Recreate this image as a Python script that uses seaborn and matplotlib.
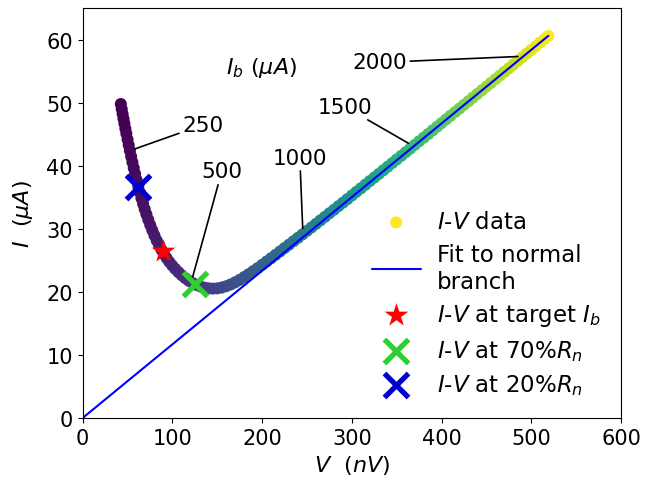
import numpy as np
import pandas as pd
import matplotlib
matplotlib.use("Agg")
import matplotlib.pyplot as plt
import seaborn as sns

# I-V sweep of the TES, listed by ascending bias current
ib_ua = [218, 221, 224, 227, 231, 234, 238, 242, 246, 250, 255, 260, 265, 270,
         275, 282, 288, 294, 300, 306, 313, 320, 328, 337, 345, 354, 364, 374,
         384, 395, 407, 419, 432, 445, 460, 475, 490, 507, 523, 541, 558, 576,
         594, 614, 634, 654, 674, 694, 714, 734, 754, 775, 795, 815, 835, 856,
         876, 896, 917, 937, 957, 978, 998, 1018, 1038, 1059, 1079, 1099, 1120,
         1140, 1160, 1181, 1201, 1221, 1242, 1262, 1282, 1303, 1323, 1344, 1364,
         1384, 1405, 1425, 1445, 1466, 1486, 1506, 1527, 1547, 1567, 1588, 1608,
         1628, 1649, 1669, 1689, 1710, 1730, 1750, 1771, 1791, 1812, 1832, 1852,
         1873, 1893, 1913, 1934, 1954, 1974, 1995, 2015, 2035, 2056, 2076, 2096,
         2113]
v_nv = [42.5, 43.5, 44.5, 45.5, 46.5, 47.6, 48.7, 50.0, 51.3, 52.6, 54.0, 55.4,
        56.9, 58.4, 60.1, 62.0, 63.7, 65.5, 67.3, 69.1, 71.0, 73.1, 75.3, 77.6,
        80.0, 82.5, 85.1, 87.8, 90.6, 93.5, 96.6, 99.8, 103.2, 106.8, 110.5,
        114.4, 118.5, 122.7, 127.0, 131.5, 136.0, 140.5, 145, 150, 155, 160, 165,
        170, 175, 180, 185, 190, 195, 200, 205, 210, 215, 220, 225, 230, 235, 240,
        245, 250, 255, 260, 265, 270, 275, 280, 285, 290, 295, 300, 305, 310, 315,
        320, 325, 330, 335, 340, 345, 350, 355, 360, 365, 370, 375, 380, 385, 390,
        395, 400, 405, 410, 415, 420, 425, 430, 435, 440, 445, 450, 455, 460, 465,
        470, 475, 480, 485, 490, 495, 500, 505, 510, 515, 519]
i_ua = [49.80, 49.01, 48.23, 47.46, 46.71, 45.89, 45.10, 44.18, 43.28, 42.40,
        41.48, 40.58, 39.65, 38.74, 37.75, 36.68, 35.77, 34.84, 33.97, 33.14,
        32.32, 31.46, 30.61, 29.77, 28.95, 28.15, 27.39, 26.68, 26.00, 25.37,
        24.75, 24.18, 23.64, 23.12, 22.63, 22.17, 21.75, 21.39, 21.09, 20.84,
        20.66, 20.56, 20.52, 20.56, 20.69, 20.90, 21.18, 21.52, 21.91, 22.35,
        22.80, 23.28, 23.77, 24.29, 24.82, 25.35, 25.88, 26.42, 26.96, 27.49,
        28.04, 28.58, 29.13, 29.68, 30.23, 30.79, 31.35, 31.91, 32.47, 33.02,
        33.59, 34.15, 34.72, 35.29, 35.86, 36.43, 37.00, 37.57, 38.14, 38.71,
        39.29, 39.86, 40.44, 41.01, 41.58, 42.16, 42.73, 43.31, 43.89, 44.46,
        45.04, 45.62, 46.20, 46.78, 47.36, 47.94, 48.52, 49.10, 49.68, 50.25,
        50.84, 51.42, 52.00, 52.58, 53.16, 53.74, 54.32, 54.90, 55.48, 56.06,
        56.65, 57.23, 57.82, 58.40, 58.98, 59.57, 60.15, 60.62]

# straight-line fit to the normal branch
fit_v = [0.0, 519.0]
fit_i = [0.0, 60.62]

# operating points
target_v, target_i = [89.5], [26.5]
rn70_v, rn70_i = [125.5], [21.3]
rn20_v, rn20_i = [62.0], [36.6]

# bias currents called out along the curve
bias_levels = [250, 500, 1000, 1500, 2000]
label_xy = [(134, 46.5), (155, 39.1), (242, 41.3), (292, 49.4), (331, 56.4)]

sns.set_style("ticks", {"axes.edgecolor": "black", "xtick.color": "black",
                        "ytick.color": "black", "text.color": "black",
                        "axes.labelcolor": "black"})
plt.rcParams["font.family"] = ["DejaVu Sans"]
plt.rcParams["mathtext.fontset"] = "dejavusans"

fig = plt.figure(figsize=(6.46, 4.81), dpi=100)
ax = fig.add_axes([0.128, 0.129, 0.8333, 0.8518])

# sweep recorded from high bias down
sweep = pd.DataFrame({"V": v_nv, "I": i_ua, "Ib": ib_ua}).iloc[::-1]
sns.scatterplot(data=sweep, x="V", y="I", hue="Ib", palette="viridis", s=75,
                linewidth=0, legend=False, ax=ax, label=r"$I$-$V$ data")
sns.lineplot(x=fit_v, y=fit_i, color="blue", linewidth=1.5, ax=ax,
             label="Fit to normal\nbranch")
sns.scatterplot(x=target_v, y=target_i, marker="*", s=320, color="red",
                linewidth=0, ax=ax, label=r"$I$-$V$ at target $I_b$", zorder=4)
sns.scatterplot(x=rn70_v, y=rn70_i, marker="x", s=300, color="limegreen",
                linewidth=3.8, ax=ax, label=r"$I$-$V$ at 70%$R_n$", zorder=4)
sns.scatterplot(x=rn20_v, y=rn20_i, marker="x", s=300, color="mediumblue",
                linewidth=3.8, ax=ax, label=r"$I$-$V$ at 20%$R_n$", zorder=4)

ib_arr = np.asarray(ib_ua, dtype=float)
for level, (tx, ty) in zip(bias_levels, label_xy):
    px = np.interp(level, ib_arr, v_nv)
    py = np.interp(level, ib_arr, i_ua)
    ax.annotate(str(level), xy=(px, py), xytext=(tx, ty), ha="center",
                va="center", fontsize=15.5,
                arrowprops=dict(arrowstyle="-", color="black", lw=1.2,
                                shrinkA=0, shrinkB=4))
ax.text(199.5, 55.6, r"$I_b\ (\mu A)$", ha="center", va="center", fontsize=16)

ax.set_xlim(0, 600)
ax.set_ylim(0, 65)
ax.set_xticks(range(0, 601, 100))
ax.set_yticks(range(0, 61, 10))
ax.tick_params(labelsize=15)
ax.set_xlabel(r"$V\ \ (nV)$", fontsize=16)
ax.set_ylabel(r"$I\ \ (\mu A)$", fontsize=16, labelpad=8)

ax.legend(loc="lower right", frameon=False, fontsize=16.5, handlelength=2.15,
          handletextpad=0.7, labelspacing=0.42, scatterpoints=1)

fig.savefig("out.png", dpi=100)
